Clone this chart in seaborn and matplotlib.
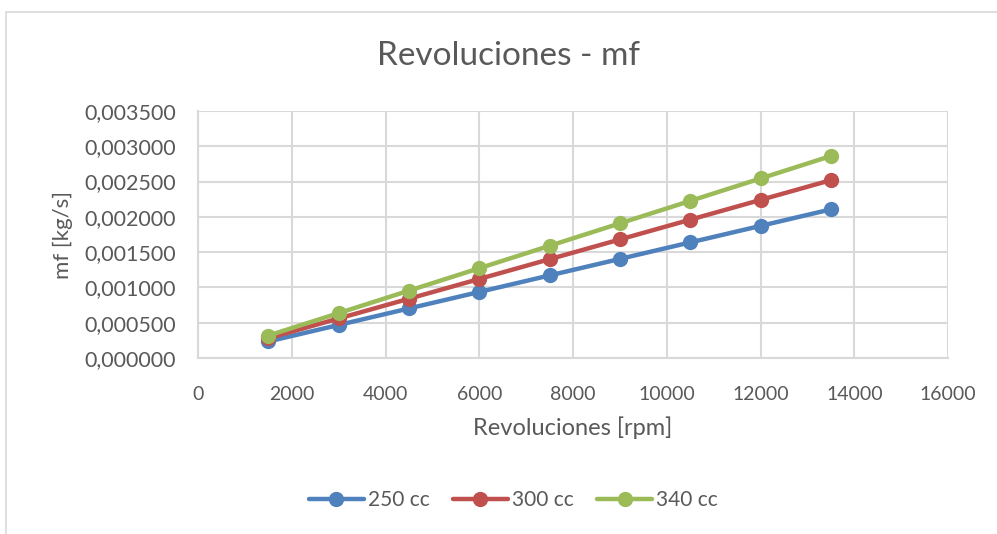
import matplotlib
matplotlib.use("Agg")
import matplotlib.pyplot as plt
from matplotlib.lines import Line2D
from matplotlib.ticker import FuncFormatter, MultipleLocator
import seaborn as sns
import pandas as pd

# Engine speed and fuel mass flow per displacement
rpm = [1500, 3000, 4500, 6000, 7500, 9000, 10500, 12000, 13500]
mf_250 = [0.000234, 0.000468, 0.000702, 0.000936, 0.001170, 0.001404, 0.001638, 0.001872, 0.002106]
mf_300 = [0.000280, 0.000560, 0.000840, 0.001120, 0.001400, 0.001680, 0.001960, 0.002240, 0.002520]
mf_340 = [0.000318, 0.000636, 0.000954, 0.001272, 0.001590, 0.001908, 0.002226, 0.002544, 0.002862]
series_names = ["250 cc", "300 cc", "340 cc"]
colors = ["#4f81bd", "#c0504d", "#9bbb59"]

df = pd.concat([
    pd.DataFrame({"rpm": rpm, "mf": vals, "serie": name})
    for name, vals in zip(series_names, [mf_250, mf_300, mf_340])
])

sns.set_style("white")
plt.rcParams["font.family"] = ["Lato", "DejaVu Sans"]
text_color = "#595959"
grid_color = "#d9d9d9"

fig = plt.figure(figsize=(9.97, 5.34), dpi=100)
ax = fig.add_axes([0.1986, 0.3296, 0.7523, 0.4625])

sns.lineplot(data=df, x="rpm", y="mf", hue="serie", palette=colors,
             marker="o", markersize=11, markeredgewidth=0, linewidth=3.2,
             legend=False, ax=ax)

ax.set_xlim(0, 16000)
ax.set_ylim(0, 0.0035)
ax.xaxis.set_major_locator(MultipleLocator(2000))
ax.yaxis.set_major_locator(MultipleLocator(0.0005))
ax.yaxis.set_major_formatter(FuncFormatter(lambda v, p: f"{v:.6f}".replace(".", ",")))
ax.grid(True, color=grid_color, linewidth=1.5)
ax.set_axisbelow(True)
for side in ["left", "bottom", "right", "top"]:
    ax.spines[side].set_visible(side in ("left", "bottom"))
    ax.spines[side].set_color(grid_color)
    ax.spines[side].set_linewidth(1.5)
ax.tick_params(axis="y", length=0, labelsize=15.5, labelcolor=text_color, pad=16)
ax.tick_params(axis="x", length=0, labelsize=14, labelcolor=text_color, pad=20)

ax.set_xlabel("Revoluciones [rpm]", fontsize=17, color=text_color, labelpad=10)
ax.set_ylabel("mf [kg/s]", fontsize=16, color=text_color, labelpad=8)
fig.suptitle("Revoluciones - mf", fontsize=24, color=text_color,
             x=0.51, y=0.895, va="center")

handles = [Line2D([], [], color=c, linewidth=3.2, marker="o", markersize=11,
                  markeredgewidth=0) for c in colors]
fig.legend(handles, series_names, loc="center", bbox_to_anchor=(0.515, 0.064),
           ncol=3, frameon=False, fontsize=15, labelcolor=text_color,
           handlelength=2.6, handletextpad=0.2, columnspacing=1.15)

# Chart area frame
fig.add_artist(Line2D([0.006, 0.006], [0.0, 0.978], color=grid_color, linewidth=1.2,
                      transform=fig.transFigure))
fig.add_artist(Line2D([0.006, 1.0], [0.978, 0.978], color=grid_color, linewidth=1.2,
                      transform=fig.transFigure))

fig.savefig("out.png", dpi=100)
